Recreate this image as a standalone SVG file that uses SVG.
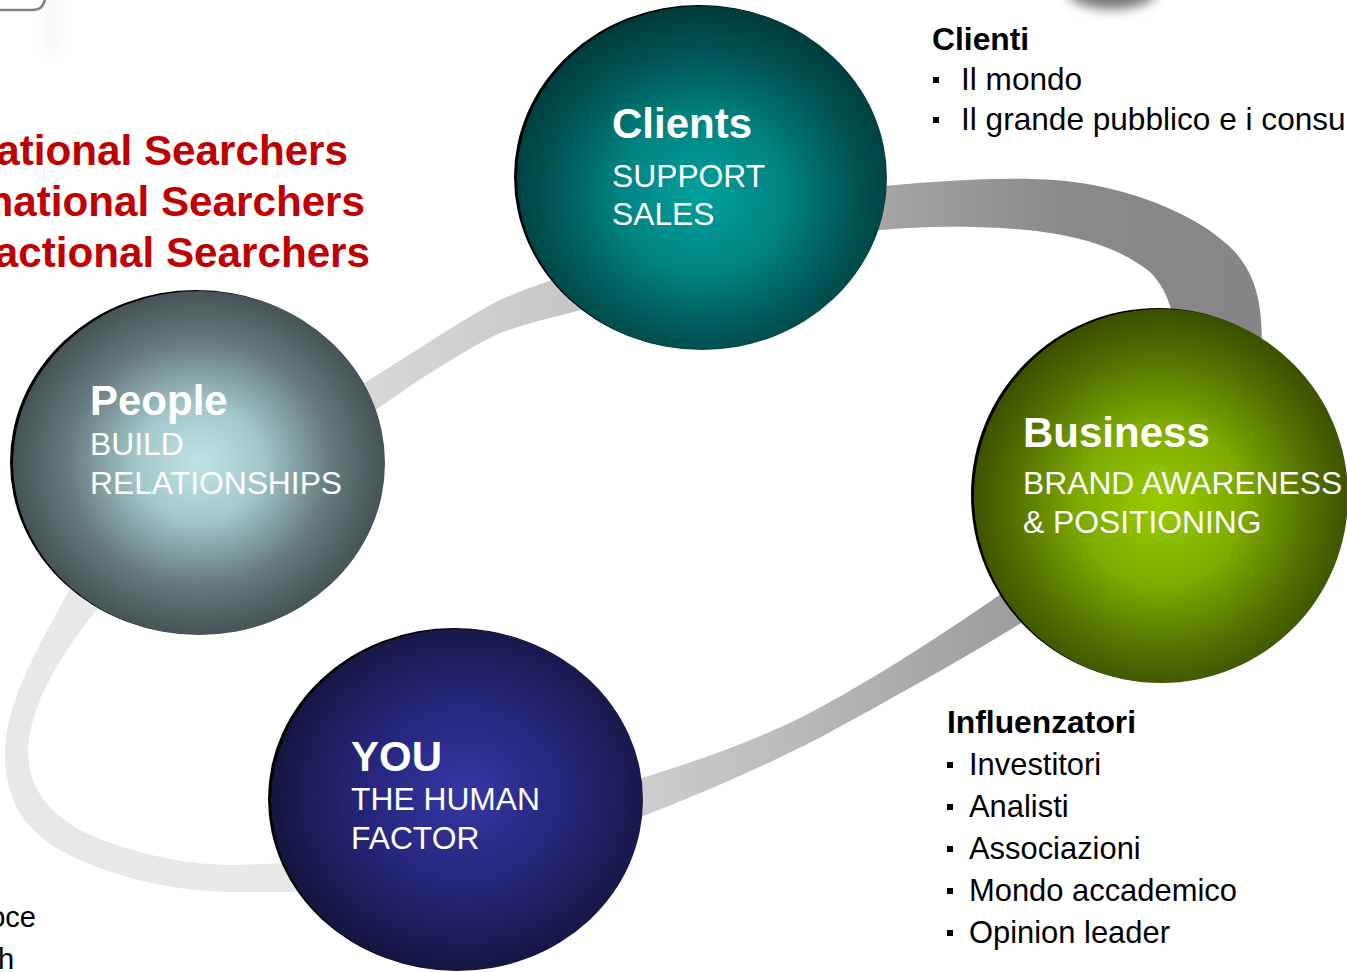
<svg xmlns="http://www.w3.org/2000/svg" width="1347" height="972" viewBox="0 0 1347 972">
<style>
.red{font-family:"Liberation Sans",Arial,sans-serif;font-weight:bold;font-size:42.2px;fill:#c00000}
.ttl{font-family:"Liberation Sans",Arial,sans-serif;font-weight:bold;font-size:42px;fill:#ffffff}
.sub{font-family:"Liberation Sans",Arial,sans-serif;font-size:31.8px;fill:#ffffff}
.hd{font-family:"Liberation Sans",Arial,sans-serif;font-weight:bold;font-size:31.8px;fill:#000000}
.li{font-family:"Liberation Sans",Arial,sans-serif;font-size:31.6px;fill:#000000}
.li2{font-family:"Liberation Sans",Arial,sans-serif;font-size:30.9px;fill:#000000}
.bul{fill:#000000}
.rim{fill:#000000}
</style>
<defs>
<radialGradient id="gClients" cx="0.5" cy="0.55" r="0.55">
<stop offset="0" stop-color="#00a09e"/>
<stop offset="0.4" stop-color="#008482"/>
<stop offset="0.75" stop-color="#005555"/>
<stop offset="1" stop-color="#003a3a"/>
</radialGradient>
<radialGradient id="gPeople" cx="0.5" cy="0.5" r="0.55">
<stop offset="0" stop-color="#bfe3e6"/>
<stop offset="0.3" stop-color="#a3c8cb"/>
<stop offset="0.65" stop-color="#647a7c"/>
<stop offset="1" stop-color="#3a4647"/>
</radialGradient>
<radialGradient id="gBusiness" cx="0.5" cy="0.52" r="0.55">
<stop offset="0" stop-color="#98cc00"/>
<stop offset="0.4" stop-color="#7eaa00"/>
<stop offset="0.75" stop-color="#4f6c00"/>
<stop offset="1" stop-color="#354700"/>
</radialGradient>
<radialGradient id="gYou" cx="0.52" cy="0.48" r="0.55">
<stop offset="0" stop-color="#3636a4"/>
<stop offset="0.45" stop-color="#272780"/>
<stop offset="0.8" stop-color="#1b1b55"/>
<stop offset="1" stop-color="#13133a"/>
</radialGradient>
<linearGradient id="gBandA" x1="860" y1="0" x2="1262" y2="0" gradientUnits="userSpaceOnUse">
<stop offset="0" stop-color="#a8a8a8"/>
<stop offset="0.5" stop-color="#8a8a8a"/>
<stop offset="1" stop-color="#858585"/>
</linearGradient>
<linearGradient id="gBandB" x1="620" y1="0" x2="1040" y2="0" gradientUnits="userSpaceOnUse">
<stop offset="0" stop-color="#d0d0d0"/>
<stop offset="1" stop-color="#999999"/>
</linearGradient>
<linearGradient id="gBandC" x1="340" y1="0" x2="600" y2="0" gradientUnits="userSpaceOnUse">
<stop offset="0" stop-color="#dadada"/>
<stop offset="1" stop-color="#c4c4c4"/>
</linearGradient>
<filter id="blur" x="-50%" y="-50%" width="200%" height="200%">
<feGaussianBlur stdDeviation="6"/>
</filter>
</defs>

<g id="decor">
<rect x="44" y="-20" width="18" height="72" fill="#f0f0f0" filter="url(#blur)" opacity="0.45"/>
<path d="M-5,10 L32,10 Q44,10 45,-2" fill="none" stroke="#877c88" stroke-width="2.5"/>
<ellipse cx="1112" cy="-8" rx="44" ry="17" fill="#757575" filter="url(#blur)"/>
</g>

<g id="connectors">
<path d="M860,188 C940,181 1030,173 1093,185 C1150,196 1205,220 1235,252 C1255,275 1262,300 1262,345 L1175,345 C1176,320 1170,292 1150,272 C1125,252 1090,238 1043,232 C1000,226 930,224 860,232 Z" fill="url(#gBandA)"/>
<path d="M1025,577 C950,630 880,675 821,707 C760,740 700,760 620,785 L620,825 C700,795 760,768 821,737 C900,694 980,650 1045,608 Z" fill="url(#gBandB)"/>
<path d="M340,398 C400,362 460,320 500,300 C525,289 550,280 600,265 L600,305 C560,316 530,322 500,333 C460,352 410,385 355,425 Z" fill="url(#gBandC)"/>
<path d="M72,585 C42,640 5,700 5,755 C5,800 25,830 60,850 C110,878 180,892 233,892 L320,892 L320,862 L233,865 C180,865 120,850 80,830 C45,810 28,785 28,750 C30,705 62,650 105,600 Z" fill="#e8e8e8"/>
</g>

<g id="searchers">
<text class="red" x="348" y="165" text-anchor="end">ational Searchers</text>
<text class="red" x="365" y="216" text-anchor="end">national Searchers</text>
<text class="red" x="370" y="267" text-anchor="end">actional Searchers</text>
</g>

<g id="node-clients">
<ellipse class="rim" cx="699" cy="177" rx="185" ry="172"/>
<ellipse cx="702" cy="178" rx="185" ry="172" fill="url(#gClients)"/>
<text class="ttl" x="612" y="138">Clients</text>
<text class="sub" x="612" y="187">SUPPORT</text>
<text class="sub" x="612" y="225">SALES</text>
</g>

<g id="node-people">
<ellipse class="rim" cx="196" cy="462" rx="186" ry="172"/>
<ellipse cx="199" cy="463" rx="186" ry="172" fill="url(#gPeople)"/>
<text class="ttl" x="90" y="415">People</text>
<text class="sub" x="90" y="455">BUILD</text>
<text class="sub" x="90" y="494">RELATIONSHIPS</text>
</g>

<g id="node-business">
<ellipse class="rim" cx="1158" cy="495" rx="187" ry="187"/>
<ellipse cx="1161" cy="496" rx="187" ry="187" fill="url(#gBusiness)"/>
<text class="ttl" x="1023" y="447">Business</text>
<text class="sub" x="1023" y="494">BRAND AWARENESS</text>
<text class="sub" x="1023" y="533">&amp; POSITIONING</text>
</g>

<g id="node-you">
<ellipse class="rim" cx="454" cy="799" rx="186" ry="171"/>
<ellipse cx="457" cy="800" rx="186" ry="171" fill="url(#gYou)"/>
<text class="ttl" x="351" y="771">YOU</text>
<text class="sub" x="351" y="810">THE HUMAN</text>
<text class="sub" x="351" y="849">FACTOR</text>
</g>

<g id="list-clienti">
<text class="hd" x="932" y="50">Clienti</text>
<rect class="bul" x="933" y="77" width="6" height="6"/>
<text class="li" x="961" y="90">Il mondo</text>
<rect class="bul" x="933" y="117" width="6" height="6"/>
<text class="li" x="961" y="130">Il grande pubblico e i consu</text>
</g>

<g id="list-influenzatori">
<text class="hd" x="947" y="733">Influenzatori</text>
<rect class="bul" x="947" y="762" width="6" height="6"/>
<text class="li2" x="969" y="775">Investitori</text>
<rect class="bul" x="947" y="804" width="6" height="6"/>
<text class="li2" x="969" y="817">Analisti</text>
<rect class="bul" x="947" y="846" width="6" height="6"/>
<text class="li2" x="969" y="859">Associazioni</text>
<rect class="bul" x="947" y="888" width="6" height="6"/>
<text class="li2" x="969" y="901">Mondo accademico</text>
<rect class="bul" x="947" y="930" width="6" height="6"/>
<text class="li2" x="969" y="943">Opinion leader</text>
</g>

<g id="left-fragments">
<text class="li" x="36" y="927" text-anchor="end" style="font-size:29px">oce</text>
<text class="li" x="-2" y="969" style="font-size:29px">h</text>
</g>
</svg>
